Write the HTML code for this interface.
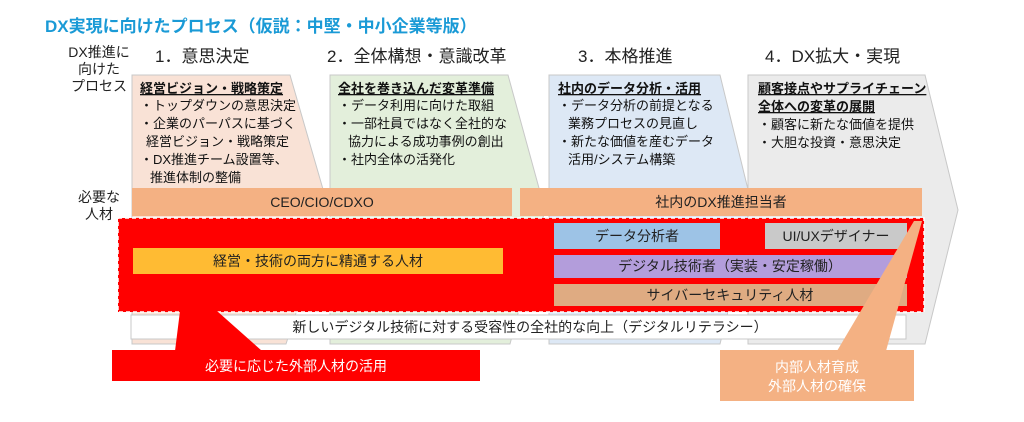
<!DOCTYPE html>
<html><head><meta charset="utf-8"><style>
body{margin:0;background:#fff;}
svg text{font-family:"Liberation Sans","Noto Sans CJK JP",sans-serif;}
</style></head><body>
<svg width="1024" height="417" viewBox="0 0 1024 417" xmlns="http://www.w3.org/2000/svg">
<text x="45" y="32" font-size="17" font-weight="bold" fill="#1a9ad6">DX実現に向けたプロセス（仮説：中堅・中小企業等版）</text>
<g font-size="14" fill="#222" text-anchor="middle">
<text x="99" y="57">DX推進に</text><text x="99" y="74">向けた</text><text x="99" y="91">プロセス</text>
<text x="99" y="202">必要な</text><text x="99" y="219">人材</text>
</g>
<g font-size="17" fill="#222">
<text x="155" y="62">1．意思決定</text>
<text x="327" y="62">2．全体構想・意識改革</text>
<text x="578" y="62">3．本格推進</text>
<text x="765" y="62">4．DX拡大・実現</text>
</g>
<g stroke="#c8c8c8" stroke-width="1">
<polygon points="132,75 290,75 329,210 286,344 132,344" fill="#f9e2d6"/>
<polygon points="330,75 508,75 545,210 510,344 330,344" fill="#e3efdb"/>
<polygon points="549,75 720,75 753,210 720,344 549,344" fill="#dde8f5"/>
<polygon points="748,75 925,75 958,210 925,344 748,344" fill="#ebebeb"/>
</g>
<g font-size="13" fill="#111">
<text x="140" y="93" font-weight="bold" text-decoration="underline">経営ビジョン・戦略策定</text>
<text x="140" y="110">・トップダウンの意思決定</text>
<text x="140" y="128">・企業のパーパスに基づく</text>
<text x="146" y="146">経営ビジョン・戦略策定</text>
<text x="140" y="164">・DX推進チーム設置等、</text>
<text x="150" y="182">推進体制の整備</text>
<text x="338" y="93" font-weight="bold" text-decoration="underline">全社を巻き込んだ変革準備</text>
<text x="338" y="110">・データ利用に向けた取組</text>
<text x="338" y="128">・一部社員ではなく全社的な</text>
<text x="348" y="146">協力による成功事例の創出</text>
<text x="338" y="164">・社内全体の活発化</text>
<text x="558" y="93" font-weight="bold" text-decoration="underline">社内のデータ分析・活用</text>
<text x="558" y="110">・データ分析の前提となる</text>
<text x="568" y="128">業務プロセスの見直し</text>
<text x="558" y="146">・新たな価値を産むデータ</text>
<text x="568" y="164">活用/システム構築</text>
<text x="758" y="93" font-weight="bold" text-decoration="underline">顧客接点やサプライチェーン</text>
<text x="758" y="111" font-weight="bold" text-decoration="underline">全体への変革の展開</text>
<text x="758" y="129">・顧客に新たな価値を提供</text>
<text x="758" y="147">・大胆な投資・意思決定</text>
</g>
<rect x="132" y="188" width="380" height="28" fill="#f4b183"/>
<rect x="520" y="188" width="402" height="28" fill="#f4b183"/>
<g font-size="14" fill="#222" text-anchor="middle">
<text x="322" y="207">CEO/CIO/CDXO</text>
<text x="721" y="207">社内のDX推進担当者</text>
</g>
<rect x="131" y="315" width="775" height="24" fill="#fff" stroke="#c8c8c8"/>
<text x="530" y="332" font-size="14" fill="#222" text-anchor="middle">新しいデジタル技術に対する受容性の全社的な向上（デジタルリテラシー）</text>
<rect x="118" y="218" width="806" height="94" fill="#ff0000" stroke="#fff" stroke-width="1.5" stroke-dasharray="4,3"/>
<rect x="133" y="248" width="370" height="26" fill="#ffbb33"/>
<rect x="554" y="223" width="166" height="26" fill="#9dc3e6"/>
<rect x="765" y="223" width="142" height="26" fill="#c9c9c9"/>
<rect x="554" y="255" width="353" height="23" fill="#b39ddb"/>
<rect x="554" y="284" width="353" height="22" fill="#dfab82"/>
<g font-size="14" fill="#222" text-anchor="middle">
<text x="318" y="266">経営・技術の両方に精通する人材</text>
<text x="637" y="241">データ分析者</text>
<text x="836" y="241">UI/UXデザイナー</text>
<text x="730" y="271">デジタル技術者（実装・安定稼働）</text>
<text x="730" y="300">サイバーセキュリティ人材</text>
</g>
<polygon points="180,311 217,311 262,351 175,351" fill="#ff0000"/>
<rect x="112" y="350" width="368" height="31" fill="#ff0000"/>
<text x="296" y="371" font-size="14" fill="#fff" text-anchor="middle">必要に応じた外部人材の活用</text>
<polygon points="837,351 886,351 922,221 914,221" fill="#f4b183"/>
<rect x="720" y="350" width="194" height="51" fill="#f4b183"/>
<text x="817" y="372" font-size="14" fill="#fff" text-anchor="middle">内部人材育成</text>
<text x="817" y="391" font-size="14" fill="#fff" text-anchor="middle">外部人材の確保</text>
</svg>
</body></html>
